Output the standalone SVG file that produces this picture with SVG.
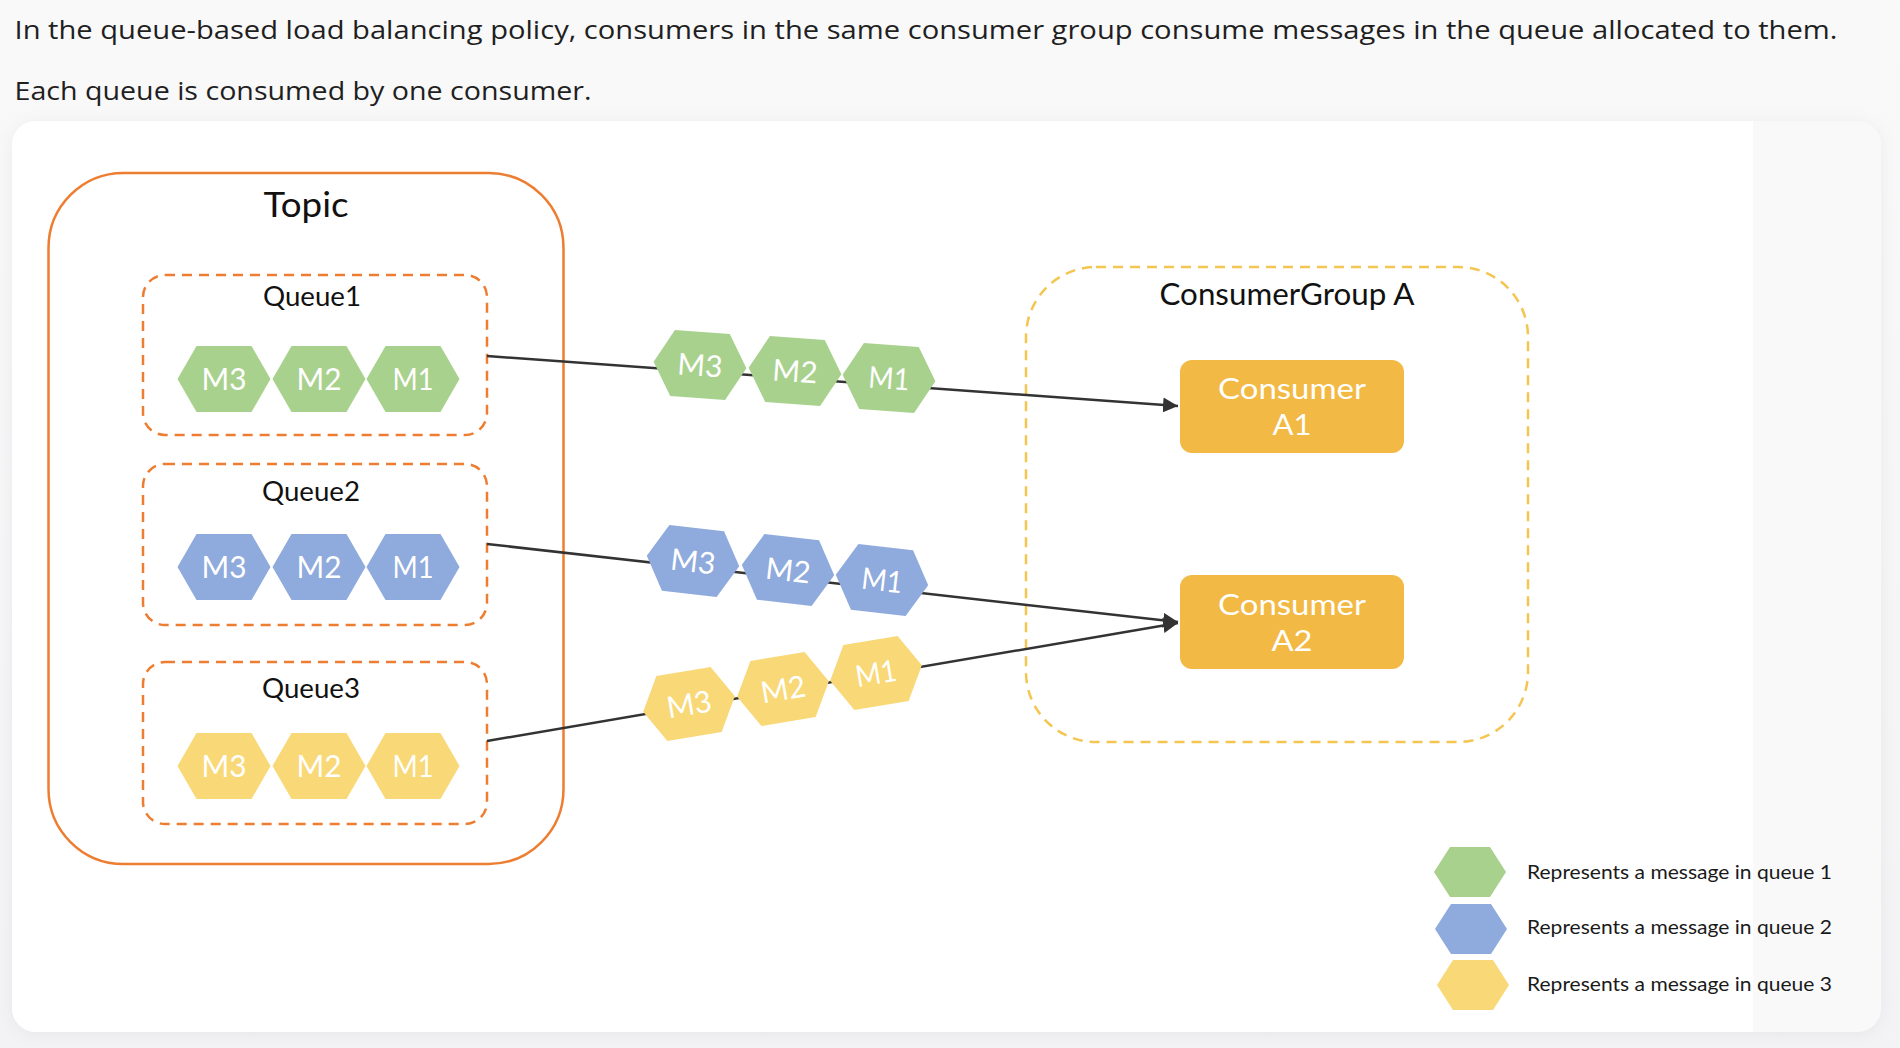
<svg xmlns="http://www.w3.org/2000/svg" xmlns:xlink="http://www.w3.org/1999/xlink" width="1900" height="1048" viewBox="0 0 1900 1048">
  <style>
    .hdr { font-family: "Open Sans", "Noto Sans", sans-serif; font-size: 25.5px; fill: #1f1f1f; }
    .lbl { font-family: Lato, "Open Sans", sans-serif; fill: #111111; text-anchor: middle; }
    .m { font-family: Lato, "Open Sans", sans-serif; font-size: 30px; fill: #ffffff; text-anchor: middle; }
    .cons { font-family: Lato, "Open Sans", sans-serif; font-size: 29px; fill: #ffffff; text-anchor: middle; }
    .leg { font-family: Lato, "Open Sans", sans-serif; font-size: 20px; fill: #1a1a1a; }
    .topic { fill: none; stroke: #ED7D31; stroke-width: 2.5; }
    .queue { fill: none; stroke: #ED7D31; stroke-width: 2.5; stroke-dasharray: 10 7; }
    .group { fill: none; stroke: #F4C550; stroke-width: 2.5; stroke-dasharray: 10 7; }
    .g { fill: #A9D18E; }
    .b { fill: #8FAADC; }
    .y { fill: #F9D877; }
    .conn { fill: none; stroke: #333333; stroke-width: 2.5; }
    .cbox { fill: #F2B944; }
  </style>
  <defs>
    <polygon id="hex" points="-46.5,0 -27.5,-33 27.5,-33 46.5,0 27.5,33 -27.5,33"/>
    <polygon id="hexs" points="-36,0 -20,-25 20,-25 36,0 20,25 -20,25"/>
    <marker id="arr" viewBox="0 0 10 10" refX="10" refY="5" markerWidth="6" markerHeight="6" markerUnits="strokeWidth" orient="auto">
      <path d="M0,0 L10,5 L0,10 z" fill="#333333"/>
    </marker>
    <filter id="shadow" x="-5%" y="-5%" width="110%" height="110%">
      <feDropShadow dx="0" dy="2" stdDeviation="8" flood-color="#000000" flood-opacity="0.05"/>
    </filter>
    <linearGradient id="bg" x1="0" y1="0" x2="0" y2="1">
      <stop offset="0" stop-color="#f9f9fa"/>
      <stop offset="1" stop-color="#f3f3f5"/>
    </linearGradient>
  </defs>

  <!-- page background -->
  <rect x="0" y="0" width="1900" height="1048" fill="url(#bg)"/>

  <!-- header text -->
  <text class="hdr" x="14.5" y="39" textLength="1823" lengthAdjust="spacingAndGlyphs">In the queue-based load balancing policy, consumers in the same consumer group consume messages in the queue allocated to them.</text>
  <text class="hdr" x="14.5" y="100" textLength="577" lengthAdjust="spacingAndGlyphs">Each queue is consumed by one consumer.</text>

  <!-- card -->
  <rect x="12" y="121" width="1869" height="911" rx="24" fill="#f9f9fa" filter="url(#shadow)"/>
  <path d="M36,121 H1753 V1032 H36 A24,24 0 0 1 12,1008 V145 A24,24 0 0 1 36,121 Z" fill="#ffffff"/>

  <!-- Topic -->
  <g id="topic">
    <rect class="topic" x="48.5" y="173" width="515" height="691" rx="75"/>
    <text class="lbl" x="306" y="217" font-size="35" textLength="85" lengthAdjust="spacingAndGlyphs">Topic</text>
  </g>

  <!-- Queues -->
  <g id="queue1">
    <rect class="queue" x="143" y="275" width="344" height="160" rx="22"/>
    <text class="lbl" x="312" y="306" font-size="27" textLength="98" lengthAdjust="spacingAndGlyphs">Queue1</text>
    <g id="q1-m3" transform="translate(224,379)"><use xlink:href="#hex" class="g"/><text class="m" y="11" textLength="45" lengthAdjust="spacingAndGlyphs">M3</text></g>
    <g id="q1-m2" transform="translate(319,379)"><use xlink:href="#hex" class="g"/><text class="m" y="11" textLength="45" lengthAdjust="spacingAndGlyphs">M2</text></g>
    <g id="q1-m1" transform="translate(413,379)"><use xlink:href="#hex" class="g"/><text class="m" y="11" textLength="41" lengthAdjust="spacingAndGlyphs">M1</text></g>
  </g>
  <g id="queue2">
    <rect class="queue" x="143" y="464" width="344" height="161" rx="22"/>
    <text class="lbl" x="311" y="501" font-size="27" textLength="98" lengthAdjust="spacingAndGlyphs">Queue2</text>
    <g id="q2-m3" transform="translate(224,567)"><use xlink:href="#hex" class="b"/><text class="m" y="11" textLength="45" lengthAdjust="spacingAndGlyphs">M3</text></g>
    <g id="q2-m2" transform="translate(319,567)"><use xlink:href="#hex" class="b"/><text class="m" y="11" textLength="45" lengthAdjust="spacingAndGlyphs">M2</text></g>
    <g id="q2-m1" transform="translate(413,567)"><use xlink:href="#hex" class="b"/><text class="m" y="11" textLength="41" lengthAdjust="spacingAndGlyphs">M1</text></g>
  </g>
  <g id="queue3">
    <rect class="queue" x="143" y="662" width="344" height="162" rx="22"/>
    <text class="lbl" x="311" y="698" font-size="27" textLength="98" lengthAdjust="spacingAndGlyphs">Queue3</text>
    <g id="q3-m3" transform="translate(224,766)"><use xlink:href="#hex" class="y"/><text class="m" y="11" textLength="45" lengthAdjust="spacingAndGlyphs">M3</text></g>
    <g id="q3-m2" transform="translate(319,766)"><use xlink:href="#hex" class="y"/><text class="m" y="11" textLength="45" lengthAdjust="spacingAndGlyphs">M2</text></g>
    <g id="q3-m1" transform="translate(413,766)"><use xlink:href="#hex" class="y"/><text class="m" y="11" textLength="41" lengthAdjust="spacingAndGlyphs">M1</text></g>
  </g>

  <!-- Consumer group -->
  <g id="consumerGroupA">
    <rect class="group" x="1026" y="267" width="502" height="475" rx="70"/>
    <text class="lbl" x="1287" y="305" font-size="30" textLength="255" lengthAdjust="spacingAndGlyphs">ConsumerGroup A</text>
  </g>

  <!-- connectors -->
  <g id="connectors">
    <line class="conn" x1="487" y1="356" x2="1178" y2="406" marker-end="url(#arr)"/>
    <line class="conn" x1="487" y1="544" x2="1178" y2="622" marker-end="url(#arr)"/>
    <line class="conn" x1="487" y1="741" x2="1178" y2="623" marker-end="url(#arr)"/>
  </g>

  <!-- messages in transit -->
  <g id="transit-q1">
    <g id="t1-m3" transform="translate(700,365) rotate(4.1)"><use xlink:href="#hex" class="g"/><text class="m" y="11" textLength="45" lengthAdjust="spacingAndGlyphs">M3</text></g>
    <g id="t1-m2" transform="translate(795,371) rotate(4.1)"><use xlink:href="#hex" class="g"/><text class="m" y="11" textLength="45" lengthAdjust="spacingAndGlyphs">M2</text></g>
    <g id="t1-m1" transform="translate(889,378) rotate(4.1)"><use xlink:href="#hex" class="g"/><text class="m" y="11" textLength="41" lengthAdjust="spacingAndGlyphs">M1</text></g>
  </g>
  <g id="transit-q2">
    <g id="t2-m3" transform="translate(693,561) rotate(6.5)"><use xlink:href="#hex" class="b"/><text class="m" y="11" textLength="45" lengthAdjust="spacingAndGlyphs">M3</text></g>
    <g id="t2-m2" transform="translate(788,570) rotate(6.5)"><use xlink:href="#hex" class="b"/><text class="m" y="11" textLength="45" lengthAdjust="spacingAndGlyphs">M2</text></g>
    <g id="t2-m1" transform="translate(882,580) rotate(6.5)"><use xlink:href="#hex" class="b"/><text class="m" y="11" textLength="41" lengthAdjust="spacingAndGlyphs">M1</text></g>
  </g>
  <g id="transit-q3">
    <g id="t3-m3" transform="translate(689,704) rotate(-9.6)"><use xlink:href="#hex" class="y"/><text class="m" y="11" textLength="45" lengthAdjust="spacingAndGlyphs">M3</text></g>
    <g id="t3-m2" transform="translate(783,689) rotate(-9.6)"><use xlink:href="#hex" class="y"/><text class="m" y="11" textLength="45" lengthAdjust="spacingAndGlyphs">M2</text></g>
    <g id="t3-m1" transform="translate(876,673) rotate(-9.6)"><use xlink:href="#hex" class="y"/><text class="m" y="11" textLength="41" lengthAdjust="spacingAndGlyphs">M1</text></g>
  </g>

  <!-- consumers -->
  <g id="consumerA1">
    <rect class="cbox" x="1180" y="360" width="224" height="93" rx="12"/>
    <text class="cons" x="1292" y="399" textLength="148" lengthAdjust="spacingAndGlyphs">Consumer</text>
    <text class="cons" x="1292" y="435" textLength="39" lengthAdjust="spacingAndGlyphs">A1</text>
  </g>
  <g id="consumerA2">
    <rect class="cbox" x="1180" y="575" width="224" height="94" rx="12"/>
    <text class="cons" x="1292" y="615" textLength="148" lengthAdjust="spacingAndGlyphs">Consumer</text>
    <text class="cons" x="1292" y="651" textLength="41" lengthAdjust="spacingAndGlyphs">A2</text>
  </g>

  <!-- legend -->
  <g id="legend-q1">
    <use xlink:href="#hexs" class="g" transform="translate(1470,872)"/>
    <text class="leg" x="1527" y="879" textLength="305" lengthAdjust="spacingAndGlyphs">Represents a message in queue 1</text>
  </g>
  <g id="legend-q2">
    <use xlink:href="#hexs" class="b" transform="translate(1471,929)"/>
    <text class="leg" x="1527" y="934" textLength="305" lengthAdjust="spacingAndGlyphs">Represents a message in queue 2</text>
  </g>
  <g id="legend-q3">
    <use xlink:href="#hexs" class="y" transform="translate(1473,985)"/>
    <text class="leg" x="1527" y="991" textLength="305" lengthAdjust="spacingAndGlyphs">Represents a message in queue 3</text>
  </g>
</svg>
